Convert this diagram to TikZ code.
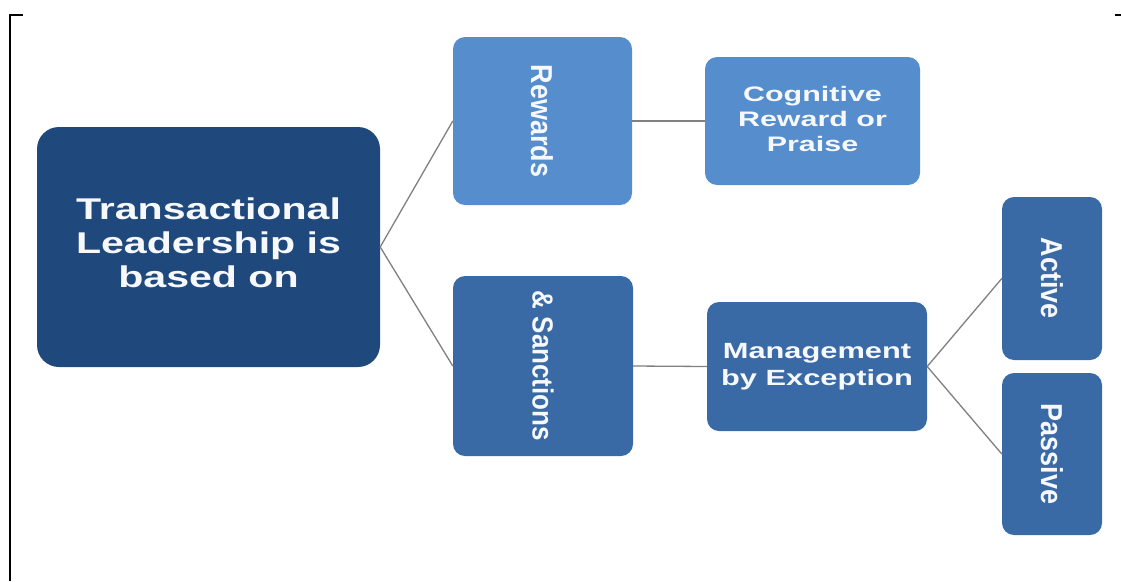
\documentclass[tikz,border=0pt]{standalone}
\usepackage{fontspec}
\setmainfont{Liberation Sans}
\usepackage{graphicx}
\definecolor{navy}{RGB}{31,73,125}
\definecolor{lightb}{RGB}{86,141,205}
\definecolor{midb}{RGB}{58,106,165}
\definecolor{conncol}{RGB}{128,128,128}
\definecolor{txtw}{RGB}{246,248,252}
\newcommand{\htext}[4]{\scalebox{#1}[1]{\fontsize{#2}{#3}\selectfont\begin{tabular}{@{}c@{}}#4\end{tabular}}}
\newcommand{\vtext}[2]{\rotatebox{-90}{\scalebox{1}[1.12]{\fontsize{#1}{#1}\selectfont #2}}}
\tikzset{
  box/.style={rectangle, rounded corners=12pt, inner sep=0pt, text=txtw, font=\bfseries},
  conn/.style={draw=conncol, line width=1.3pt},
  frameline/.style={draw=black, line width=2pt}
}
\begin{document}
\begin{tikzpicture}[x=1pt,y=-1pt]
\useasboundingbox (0,0) rectangle (1121,581);
\fill[white] (0,0) rectangle (1121,581);
\draw[frameline] (10,581) -- (10,15) -- (23,15);
\draw[frameline] (1115,15) -- (1121,15);

\node[box, fill=navy, rounded corners=22pt, minimum width=343pt, minimum height=240pt] (main) at (208.5,247)
  {\htext{1.37}{30}{34}{Transactional\\Leadership is\\based on}};
\node[box, fill=lightb, minimum width=179pt, minimum height=168pt] (rew) at (542.5,121)
  {\vtext{27}{Rewards}};
\node[box, fill=lightb, minimum width=215pt, minimum height=128pt] (cog) at (812.5,121)
  {\htext{1.45}{21}{25}{Cognitive\\Reward or\\Praise}};
\node[box, fill=midb, minimum width=180pt, minimum height=180pt] (san) at (543,366)
  {\vtext{26}{\& Sanctions}};
\node[box, fill=midb, minimum width=220pt, minimum height=129pt] (man) at (817,366.5)
  {\htext{1.4}{22}{27}{Management\\by Exception}};
\node[box, fill=midb, minimum width=100pt, minimum height=163pt] (act) at (1052,278.5)
  {\vtext{27}{Active}};
\node[box, fill=midb, minimum width=100pt, minimum height=162pt] (pas) at (1052,454)
  {\vtext{27}{Passive}};

\draw[conn] (main.east) -- (rew.west);
\draw[conn] (main.east) -- (san.west);
\draw[conn] (rew.east) -- (cog.west);
\draw[conn] (san.east) -- (man.west);
\draw[conn] (man.east) -- (act.west);
\draw[conn] (man.east) -- (pas.west);
\end{tikzpicture}
\end{document}
